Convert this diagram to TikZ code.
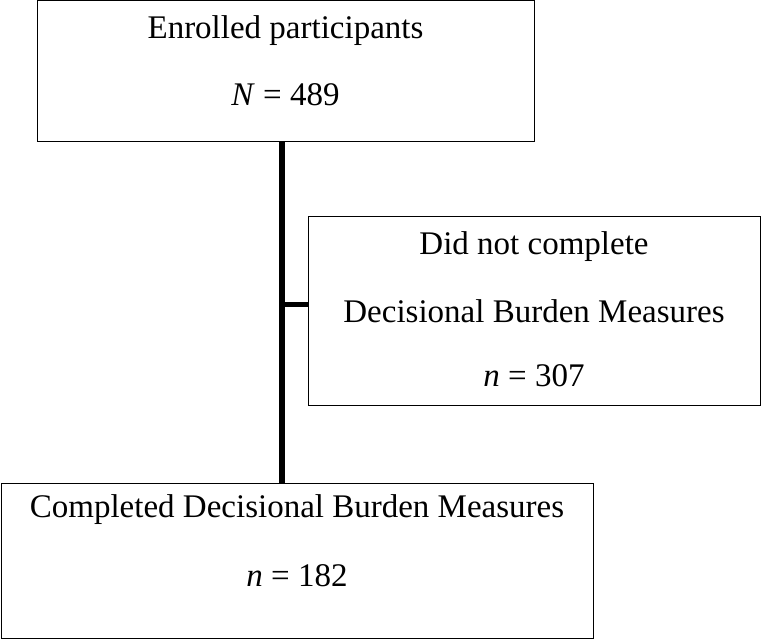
\documentclass[tikz,border=0pt]{standalone}
\usepackage{fontspec}
\setmainfont{Liberation Serif}
\begin{document}
\begin{tikzpicture}[x=1pt,y=1pt,
  box/.style={draw,line width=1pt},
  txt/.style={font=\fontsize{33}{37}\selectfont,anchor=center,inner sep=0pt}]
\useasboundingbox (0,0) rectangle (762,640);
\draw[box] (37,498) rectangle (534,639);
\node[txt] (t1a) at (285.5,609) {Enrolled participants};
\node[txt] (t1b) at (285.5,545) {\textit{N} = 489};
\draw[box] (308,234) rectangle (760,423);
\node[txt] (t2a) at (534,393) {Did not complete};
\node[txt] (t2b) at (534,329) {Decisional Burden Measures};
\node[txt] (t2c) at (534,264) {\textit{n} = 307};
\draw[box] (1,2) rectangle (593,157);
\node[txt] (t3a) at (297,130) {Completed Decisional Burden Measures};
\node[txt] (t3b) at (297,64) {\textit{n} = 182};
\coordinate (top) at (282,498);
\coordinate (bot) at (282,157);
\coordinate (mid) at (282,335);
\coordinate (right) at (308,335);
\draw[line width=6pt] (top) -- (bot);
\draw[line width=5pt] (mid) -- (right);
\end{tikzpicture}
\end{document}
